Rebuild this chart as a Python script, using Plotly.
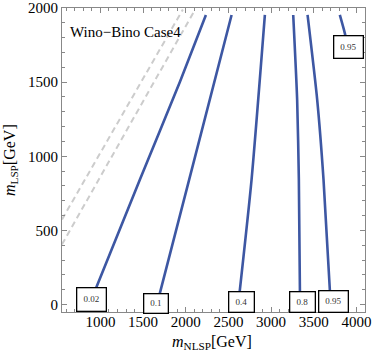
import plotly.graph_objects as go

# contour levels and their curves (m_NLSP, m_LSP in GeV)
levels = ["0.02", "0.1", "0.4", "0.8", "0.95"]
c002_x = [871, 1463, 1932, 2236]
c002_y = [0, 843, 1503, 1953]
c01_x = [1662, 2040, 2537]
c01_y = [0, 843, 1953]
c04_x = [2615, 2771, 2927]
c04_y = [0, 843, 1953]
c08_x = [3339, 3325, 3305, 3259]
c08_y = [0, 843, 1381, 1953]
c095_x = [3698, 3614, 3540, 3427]
c095_y = [0, 843, 1381, 1953]
c095b_x = [3805, 3864, 3897]
c095b_y = [1953, 1829, 1737]

# kinematic boundary lines (dashed gray)
dashA_x = [550, 1966]
dashA_y = [574, 1990]
dashB_x = [550, 2110]
dashB_y = [406, 1990]

# contour label positions
lab_text = ["0.02", "0.1", "0.4", "0.8", "0.95", "0.95"]
lab_x = [901, 1651, 2655, 3369, 3732, 3907]
lab_y = [36, 9, 15, 15, 19, 1738]
lab_w = [26, 21, 22, 22, 26, 26]
lab_h = [20, 16, 17, 17, 18, 19]

blue = "#3d57a3"
gray = "#cccccc"
serif = "Liberation Serif, Times New Roman, serif"

W, H = 374, 357
ML, MR, MT, MB = 62, 9, 8, 45
pw, ph = W - ML - MR, H - MT - MB


def px_to_paper(px, py):
    return (px - ML) / pw, (H - MB - py) / ph


fig = go.Figure()
for xs, ys in [(dashA_x, dashA_y), (dashB_x, dashB_y)]:
    fig.add_trace(go.Scatter(x=xs, y=ys, mode="lines",
                             line=dict(color=gray, width=2, dash="6px,4px"),
                             hoverinfo="skip", showlegend=False))
for xs, ys in [(c002_x, c002_y), (c01_x, c01_y), (c04_x, c04_y),
               (c08_x, c08_y), (c095_x, c095_y), (c095b_x, c095b_y)]:
    fig.add_trace(go.Scatter(x=xs, y=ys, mode="lines",
                             line=dict(color=blue, width=2.6, shape="spline", smoothing=0.6),
                             hoverinfo="skip", showlegend=False))

for t, x, y, w, h in zip(lab_text, lab_x, lab_y, lab_w, lab_h):
    fig.add_annotation(x=x, y=y, text=t, showarrow=False, xref="x", yref="y",
                       font=dict(family=serif, size=9, color="#333"),
                       bgcolor="white", bordercolor="black", borderwidth=1.3,
                       borderpad=1, width=w, height=h)

tx, ty = px_to_paper(68, 32)
fig.add_annotation(x=tx, y=ty, xref="paper", yref="paper",
                   text="Wino\u2212Bino Case4", showarrow=False,
                   xanchor="left", yanchor="middle",
                   font=dict(family=serif, size=15, color="black"))
# axis titles
ax_, ay_ = px_to_paper(212, 342)
fig.add_annotation(x=ax_, y=ay_, xref="paper", yref="paper",
                   xanchor="center", yanchor="middle",
                   text="<i>m</i><sub>NLSP</sub>[GeV]", showarrow=False,
                   font=dict(family=serif, size=16, color="black"))
bx_, by_ = px_to_paper(10, 160)
fig.add_annotation(x=bx_, y=by_, xref="paper", yref="paper",
                   xanchor="center", yanchor="middle", textangle=-90,
                   text="<i>m</i><sub>LSP</sub>[GeV]", showarrow=False,
                   font=dict(family=serif, size=16, color="black"))

axis_common = dict(showline=True, linecolor="#888", linewidth=1, mirror="allticks",
                   ticks="inside", ticklen=5, tickcolor="#888", showgrid=False,
                   zeroline=False, automargin=False,
                   tickfont=dict(family=serif, size=15, color="black"))
fig.update_xaxes(range=[550, 4100], tickvals=[1000, 1500, 2000, 2500, 3000, 3500, 4000],
                 minor=dict(dtick=100, ticks="inside", ticklen=3, tickcolor="#888"),
                 ticklabelstandoff=-4, **axis_common)
fig.update_yaxes(range=[-50, 2000], tickvals=[0, 500, 1000, 1500, 2000],
                 minor=dict(dtick=100, ticks="inside", ticklen=3, tickcolor="#888"),
                 **axis_common)

fig.update_layout(width=W, height=H, margin=dict(l=ML, r=MR, t=MT, b=MB, autoexpand=False),
                  paper_bgcolor="white", plot_bgcolor="white")

fig.write_html("out.html", config={"displayModeBar": False},
               post_script="document.body.style.margin='0';document.body.style.overflow='hidden';")
